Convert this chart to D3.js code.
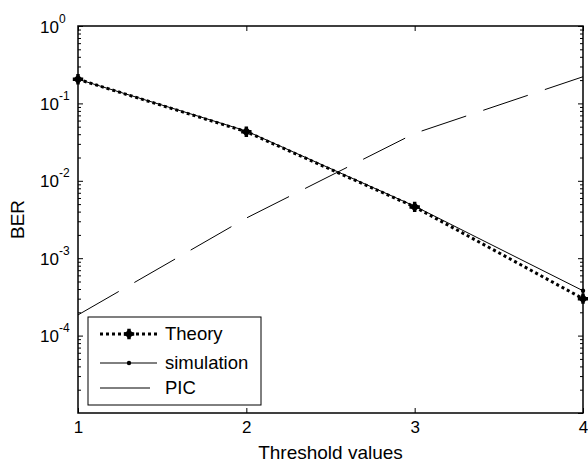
<!DOCTYPE html>
<html>
<head>
<meta charset="utf-8">
<script src="https://cdn.jsdelivr.net/npm/d3@7"></script>
<style>
    body { margin: 0; background: #fff; }
    text { font-family: "Liberation Sans", Arial, Helvetica, sans-serif; fill: #000; }
</style>
</head>
<body>
<div id="chart"></div>
<script>
// data
let thresholds = [1, 2, 3, 4];
let theoryBER = [0.205, 0.043, 0.0046, 0.00030];
let simBER = [0.205, 0.044, 0.0047, 0.00038];
let picBER = [0.000185, 0.0033, 0.041, 0.221];

let xTicks = [1, 2, 3, 4];
let yMajor = [1, 1e-1, 1e-2, 1e-3, 1e-4, 1e-5];
let yLabels = ["0", "-1", "-2", "-3", "-4"];
let legendLabels = ["Theory", "simulation", "PIC"];

let margin = {top: 26, right: 5, bottom: 51, left: 78};
let width = 588 - margin.left - margin.right;
let height = 464 - margin.top - margin.bottom;

let svg = d3.select("#chart").append("svg")
    .attr("width", 588)
    .attr("height", 464)
    .append("g")
    .attr("transform", `translate(${margin.left}, ${margin.top})`);

let x = d3.scaleLinear().domain([1, 4]).range([0, width]);
let y = d3.scaleLog().domain([1e-5, 1]).range([height, 0]);

// minor ticks for the log axis
let yMinor = [];
yMajor.slice(1).forEach(d => {
    for (let k = 2; k <= 9; k++) yMinor.push(d * k);
});

function styleAxis(g) {
    g.select(".domain").remove();
    g.selectAll(".tick line").attr("stroke", "#000").attr("stroke-width", 1);
    g.selectAll(".tick text").style("font-size", "17px").attr("fill", "#000")
        .style("font-family", '"Liberation Sans", Arial, sans-serif');
}

// x axes (bottom and top), ticks point inward
svg.append("g")
    .attr("transform", `translate(0, ${height})`)
    .call(d3.axisBottom(x).tickValues(xTicks).tickSize(-5).tickPadding(8).tickFormat(d3.format("d")))
    .call(styleAxis);

svg.append("g")
    .call(d3.axisTop(x).tickValues(xTicks).tickSize(-5).tickFormat(""))
    .call(styleAxis);

// y axes, major + minor
let yLeft = svg.append("g")
    .call(d3.axisLeft(y).tickValues(yMajor.slice(0, 5)).tickSize(-5).tickPadding(17).tickFormat(""))
    .call(styleAxis);

svg.append("g")
    .call(d3.axisLeft(y).tickValues(yMinor).tickSize(-3).tickFormat(""))
    .call(styleAxis);

svg.append("g")
    .attr("transform", `translate(${width}, 0)`)
    .call(d3.axisRight(y).tickValues(yMajor).tickSize(-5).tickFormat(""))
    .call(styleAxis);

svg.append("g")
    .attr("transform", `translate(${width}, 0)`)
    .call(d3.axisRight(y).tickValues(yMinor).tickSize(-3).tickFormat(""))
    .call(styleAxis);

// y tick labels as 10^n
yLeft.selectAll(".tick").each(function(d, i) {
    let t = d3.select(this).append("text")
        .attr("y", 6)
        .attr("text-anchor", "start")
        .style("font-size", "17px");
    t.append("tspan").attr("x", -38).text("10");
    t.append("tspan").attr("dy", -10).style("font-size", "12px").text(yLabels[i]);
});

// lines
let line = d3.line()
    .x((d, i) => x(thresholds[i]))
    .y(d => y(d));

svg.append("path")
    .datum(picBER)
    .attr("fill", "none")
    .attr("stroke", "#000")
    .attr("stroke-width", 1)
    .attr("stroke-dasharray", "47,18")
    .attr("d", line);

svg.append("path")
    .datum(theoryBER)
    .attr("fill", "none")
    .attr("stroke", "#000")
    .attr("stroke-width", 3)
    .attr("stroke-dasharray", "3,3")
    .attr("d", line);

svg.append("path")
    .datum(simBER)
    .attr("fill", "none")
    .attr("stroke", "#000")
    .attr("stroke-width", 1)
    .attr("d", line);

// markers: filled diamond with cross arms
function theoryMarker(g) {
    g.append("path").attr("d", d3.symbol(d3.symbolSquare, 48)).attr("transform", "rotate(45)").attr("fill", "#000");
    g.append("path").attr("d", d3.symbol(d3.symbolCross, 60)).attr("fill", "#000");
}

svg.selectAll(".theory-pt")
    .data(theoryBER)
    .join("g")
    .attr("class", "theory-pt")
    .attr("transform", (d, i) => `translate(${x(thresholds[i])}, ${y(d)})`)
    .each(function() { theoryMarker(d3.select(this)); });

svg.selectAll(".sim-pt")
    .data(simBER)
    .join("circle")
    .attr("class", "sim-pt")
    .attr("cx", (d, i) => x(thresholds[i]))
    .attr("cy", d => y(d))
    .attr("r", 2.2)
    .attr("fill", "#000");

// frame
svg.append("rect")
    .attr("width", width)
    .attr("height", height)
    .attr("fill", "none")
    .attr("stroke", "#000")
    .attr("stroke-width", 1.5);

// axis titles
svg.append("text")
    .attr("x", width / 2)
    .attr("y", height + 46)
    .attr("text-anchor", "middle")
    .style("font-size", "19px")
    .text("Threshold values");

svg.append("text")
    .attr("transform", `translate(${-54}, ${height / 2}) rotate(-90)`)
    .attr("text-anchor", "middle")
    .style("font-size", "19px")
    .text("BER");

// legend
let legend = svg.append("g")
    .attr("transform", "translate(10, 291)");

legend.append("rect")
    .attr("width", 173)
    .attr("height", 88)
    .attr("fill", "#fff")
    .attr("stroke", "#000")
    .attr("stroke-width", 1);

let rowY = [17, 46, 71];

legend.append("line")
    .attr("x1", 12).attr("x2", 69).attr("y1", rowY[0]).attr("y2", rowY[0])
    .attr("stroke", "#000").attr("stroke-width", 3).attr("stroke-dasharray", "3,3");
legend.append("g").attr("transform", `translate(41, ${rowY[0]})`).call(theoryMarker);

legend.append("line")
    .attr("x1", 12).attr("x2", 69).attr("y1", rowY[1]).attr("y2", rowY[1])
    .attr("stroke", "#000").attr("stroke-width", 1);
legend.append("circle").attr("cx", 41).attr("cy", rowY[1]).attr("r", 2.2).attr("fill", "#000");

legend.append("line")
    .attr("x1", 12).attr("x2", 62).attr("y1", rowY[2]).attr("y2", rowY[2])
    .attr("stroke", "#000").attr("stroke-width", 1);

legend.selectAll(".leg-text")
    .data(legendLabels)
    .join("text")
    .attr("class", "leg-text")
    .attr("x", 77)
    .attr("y", (d, i) => rowY[i] + 6)
    .style("font-size", "18.5px")
    .text(d => d);
</script>
</body>
</html>
